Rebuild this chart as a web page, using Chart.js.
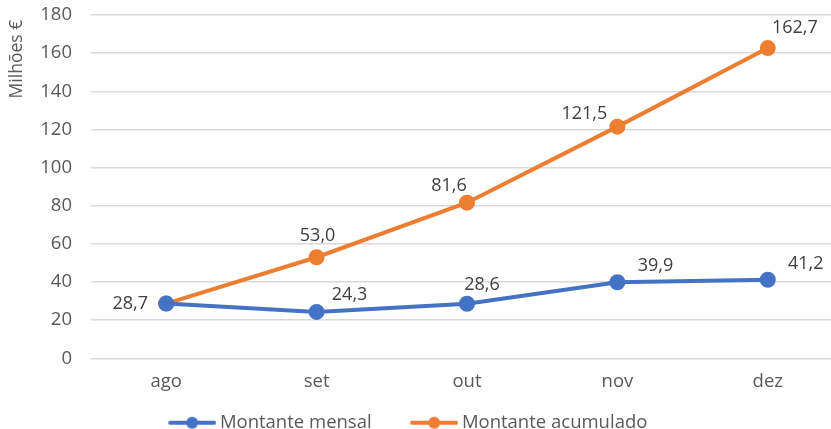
<!DOCTYPE html>
<html>
<head>
<meta charset="utf-8">
<script src="https://cdn.jsdelivr.net/npm/chart.js@4"></script>
<style>
  html, body { margin: 0; padding: 0; background: #fff; overflow: hidden; }
  #wrap { position: relative; width: 831px; height: 429px; overflow: hidden; }
  #myChart { position: absolute; left: 0; top: -15px; }
</style>
</head>
<body>
<div id="wrap"><canvas id="myChart" width="853" height="454"></canvas></div>
<script>
// data
const months = ["ago", "set", "out", "nov", "dez"];
const mensal = [28.7, 24.3, 28.6, 39.9, 41.2];
const acumulado = [28.7, 53.0, 81.6, 121.5, 162.7];
const yTicks = [0, 20, 40, 60, 80, 100, 120, 140, 160, 180];
const yTitle = 'Milhões €';

const BLUE = '#4472C4';
const ORANGE = '#ED7D31';
const FONT = '"Open Sans", "Noto Sans", sans-serif';

// label placement relative to each point (null = no label)
const labelOffsets = [
    [[-36, 0], [33, -17], [15, -19], [38, -16], [38, -16]],
    [null, [1, -21], [-18, -17], [-33, -13], [27, -20]]
];

// legend marker: line with a dot, drawn at the right of a wider image
function legendIcon(color) {
    let c = document.createElement('canvas');
    c.width = 78; c.height = 14;
    let g = c.getContext('2d');
    g.strokeStyle = color;
    g.lineWidth = 4;
    g.lineCap = 'round';
    g.beginPath(); g.moveTo(32, 7); g.lineTo(76, 7); g.stroke();
    g.fillStyle = color;
    g.beginPath(); g.arc(54, 7, 6, 0, Math.PI * 2); g.fill();
    return c;
}

const dataLabels = {
    id: 'dataLabels',
    afterLayout(chart) {
        // nudge the legend, as in the original
        chart.legend.left -= 31;
        chart.legend.right -= 31;
        chart.legend.top += 3;
        chart.legend.bottom += 3;
    },
    afterDatasetsDraw(chart) {
        const ctx = chart.ctx;
        ctx.save();
        ctx.font = '18px ' + FONT;
        ctx.fillStyle = '#404040';
        ctx.textAlign = 'center';
        ctx.textBaseline = 'middle';
        chart.data.datasets.forEach((ds, i) => {
            chart.getDatasetMeta(i).data.forEach((pt, j) => {
                const off = labelOffsets[i][j];
                if (!off) return;
                ctx.fillText(ds.data[j].toFixed(1).replace('.', ','), pt.x + off[0], pt.y + off[1]);
            });
        });
        // axis title near the top of the y axis
        ctx.font = '17.5px ' + FONT;
        ctx.fillStyle = '#595959';
        ctx.translate(17, chart.chartArea.top + 44);
        ctx.rotate(-Math.PI / 2);
        ctx.fillText(yTitle, 0, 0);
        ctx.restore();
    }
};

const ctx = document.getElementById('myChart').getContext('2d');
const myChart = new Chart(ctx, {
    type: 'line',
    data: {
        labels: months,
        datasets: [{
            label: 'Montante mensal',
            data: mensal,
            borderColor: BLUE,
            backgroundColor: BLUE,
            borderWidth: 4,
            pointRadius: 6,
            pointHoverRadius: 6,
            pointStyle: 'circle',
            legendIcon: legendIcon(BLUE)
        }, {
            label: 'Montante acumulado',
            data: acumulado,
            borderColor: ORANGE,
            backgroundColor: ORANGE,
            borderWidth: 4,
            pointRadius: 6,
            pointHoverRadius: 6,
            pointStyle: 'circle',
            legendIcon: legendIcon(ORANGE)
        }]
    },
    options: {
        responsive: false,
        animation: false,
        layout: { padding: 0 },
        plugins: {
            tooltip: { enabled: false },
            legend: {
                position: 'bottom',
                labels: {
                    usePointStyle: true,
                    pointStyleWidth: 67,
                    color: '#595959',
                    font: { family: FONT, size: 18.5 },
                    padding: 14,
                    generateLabels(chart) {
                        return chart.data.datasets.map((ds, i) => ({
                            text: ds.label,
                            pointStyle: ds.legendIcon,
                            fontColor: '#595959',
                            lineWidth: 0,
                            datasetIndex: i,
                            hidden: false
                        }));
                    }
                }
            }
        },
        scales: {
            x: {
                offset: true,
                grid: { display: false },
                border: { display: false },
                ticks: { color: '#595959', font: { family: FONT, size: 18.5 }, padding: 4 }
            },
            y: {
                min: 0,
                max: 180,
                afterBuildTicks(scale) { scale.ticks = yTicks.map(v => ({ value: v })); },
                afterFit(scale) { scale.width = 91; },
                grid: { color: '#d9d9d9', lineWidth: 1.5, drawTicks: false },
                border: { display: false },
                ticks: { color: '#595959', font: { family: FONT, size: 18.5 }, padding: 19 }
            }
        }
    },
    plugins: [dataLabels]
});
</script>
</body>
</html>
